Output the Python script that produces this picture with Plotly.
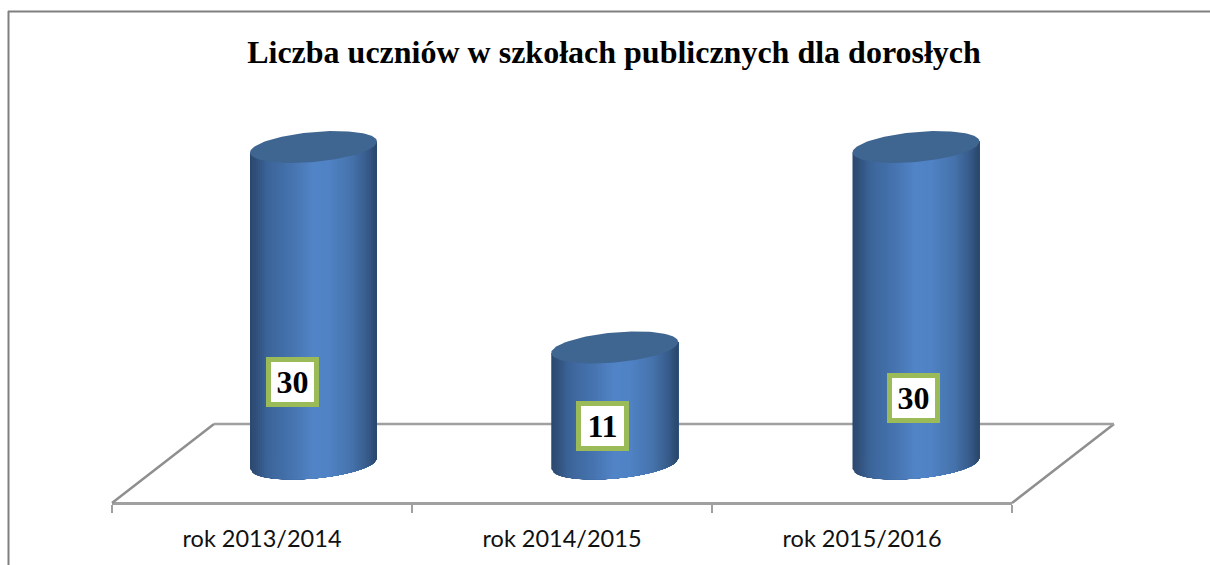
import numpy as np
import plotly.graph_objects as go

categories = ["rok 2013/2014", "rok 2014/2015", "rok 2015/2016"]
values = [30, 11, 30]
title_text = "Liczba uczniów w szkołach publicznych dla dorosłych"

W, H = 1210, 565
X0_PX, CAT_PX = 112, 300.0          # left of the floor front, width of a category
Y0_PX, UNIT_PX = 463.5, 10.55       # value 0 (base centre), pixels per unit

DEPTH_X = 102 / CAT_PX
DEPTH_Y = 39.5 / UNIT_PX
HALF_W = 63.5 / CAT_PX
ELL_B = 15 / UNIT_PX
ELL_S = 5.5 / UNIT_PX
BAR_STEP = 301.25 / CAT_PX
BAR_START = (0.5 * CAT_PX + 0.5) / CAT_PX + DEPTH_X / 2
N = 64

# gradient across the cylinder (position, rgb)
stops = [(0.0, (44, 72, 110)), (0.05, (50, 82, 124)), (0.14, (60, 101, 154)), (0.35, (72, 118, 178)),
         (0.5, (82, 133, 200)), (0.62, (80, 131, 197)), (0.8, (70, 115, 172)), (0.92, (56, 92, 140)),
         (1.0, (42, 70, 106))]
TOP_COLOR = "#3f6591"
LINE_GRAY = "#a0a0a0"
SIDE_GRAY = "#8f8f8f"


def grad(t):
    p = [s[0] for s in stops]
    return "rgb(%d,%d,%d)" % tuple(np.interp(t, p, [s[1][k] for s in stops]) for k in range(3))


fig = go.Figure()

# axis-owning trace: carries the category axis with ticks at the category edges
fig.add_trace(go.Scatter(x=[i + 0.5 for i in range(len(categories))], y=values, mode="none",
                         xaxis="x", yaxis="y", hoverinfo="skip", showlegend=False))

# floor edges
fy = DEPTH_Y
for xs, ys, col in [
    ([0, DEPTH_X], [-fy, fy], SIDE_GRAY),
    ([len(categories), len(categories) + DEPTH_X], [-fy, fy], SIDE_GRAY),
    ([DEPTH_X, len(categories) + DEPTH_X], [fy, fy], LINE_GRAY),
]:
    fig.add_trace(go.Scatter(x=xs, y=ys, mode="lines", line=dict(color=col, width=2.5),
                             xaxis="x2", yaxis="y", hoverinfo="skip", showlegend=False))

# cylinders: painted left to right, each strip overlapping everything to its right
for i, v in enumerate(values):
    cx = BAR_START + i * BAR_STEP
    edges = np.linspace(-1, 1, N + 1)
    for j in range(N):
        u = np.linspace(edges[j], 1, max(3, (N - j) // 2 + 2))
        low = ELL_S * u - ELL_B * np.sqrt(np.clip(1 - u * u, 0, 1))
        high = v + ELL_S * u
        xs = np.r_[u, u[::-1], u[0]] * HALF_W + cx
        ys = np.r_[low, high[::-1], low[0]]
        c = grad((j + 0.5) / N)
        fig.add_trace(go.Scatter(x=xs, y=ys, mode="lines", fill="toself", fillcolor=c,
                                 line=dict(color=c, width=0), xaxis="x2", yaxis="y",
                                 hoverinfo="skip", showlegend=False))
    t = np.linspace(0, 2 * np.pi, 121)
    xs = cx + HALF_W * np.cos(t)
    ys = v + ELL_S * np.cos(t) + ELL_B * np.sin(t)
    fig.add_trace(go.Scatter(x=xs, y=ys, mode="lines", fill="toself", fillcolor=TOP_COLOR,
                             line=dict(color=TOP_COLOR, width=0), xaxis="x2", yaxis="y",
                             hoverinfo="skip", showlegend=False))

# value labels, anchored on each bar's middle and nudged to where they sit
label_shift = [(-21, 76.5), (-12, 20.5), (-3, 92.5)]
annotations = []
for i, v in enumerate(values):
    annotations.append(dict(
        x=BAR_START + i * BAR_STEP, y=v / 2, xref="x2", yref="y", text=str(v), showarrow=False,
        xshift=label_shift[i][0], yshift=-label_shift[i][1], width=41, height=38,
        bgcolor="white", bordercolor="#9bbb59", borderwidth=5, borderpad=1,
        font=dict(family="Liberation Serif", size=32, color="black", weight="bold"),
    ))

fig.update_layout(
    width=W, height=H, margin=dict(l=0, r=0, t=0, b=0, pad=0),
    paper_bgcolor="white", plot_bgcolor="rgba(0,0,0,0)", showlegend=False,
    title=dict(text="<b>%s</b>" % title_text, x=614 / W, xanchor="center", y=1 - 52 / H, yanchor="middle",
               font=dict(family="Liberation Serif", size=32, color="black")),
    xaxis=dict(domain=[X0_PX / W, (X0_PX + 3 * CAT_PX) / W], range=[0, 3], anchor="free",
               position=1 - 503 / H, showgrid=False, zeroline=False, showline=True,
               linecolor=LINE_GRAY, linewidth=2.5, tickmode="array", tickvals=[0.5, 1.5, 2.5],
               ticktext=categories, ticks="", ticklabelstandoff=14,
               tickfont=dict(family="Lato", size=23.5, color="#111111"),
               minor=dict(tickmode="array", tickvals=[0, 1, 2, 3], ticks="outside", ticklen=8,
                          tickwidth=2, tickcolor=LINE_GRAY, showgrid=False)),
    xaxis2=dict(domain=[0, 1], range=[-X0_PX / CAT_PX, (W - X0_PX) / CAT_PX], visible=False,
                anchor="y"),
    yaxis=dict(domain=[0, 1], range=[-(H - Y0_PX) / UNIT_PX, Y0_PX / UNIT_PX], visible=False),
    annotations=annotations,
    shapes=[
        dict(type="line", xref="paper", yref="paper", x0=8.5 / W, x1=8.5 / W, y0=0, y1=1 - 11 / H,
             line=dict(color="#808080", width=2)),
        dict(type="line", xref="paper", yref="paper", x0=8 / W, x1=1, y0=1 - 11.5 / H, y1=1 - 11.5 / H,
             line=dict(color="#808080", width=2)),
    ],
)

fig.write_html("out.html", config={"displayModeBar": False},
               post_script="document.body.style.margin='0';")
